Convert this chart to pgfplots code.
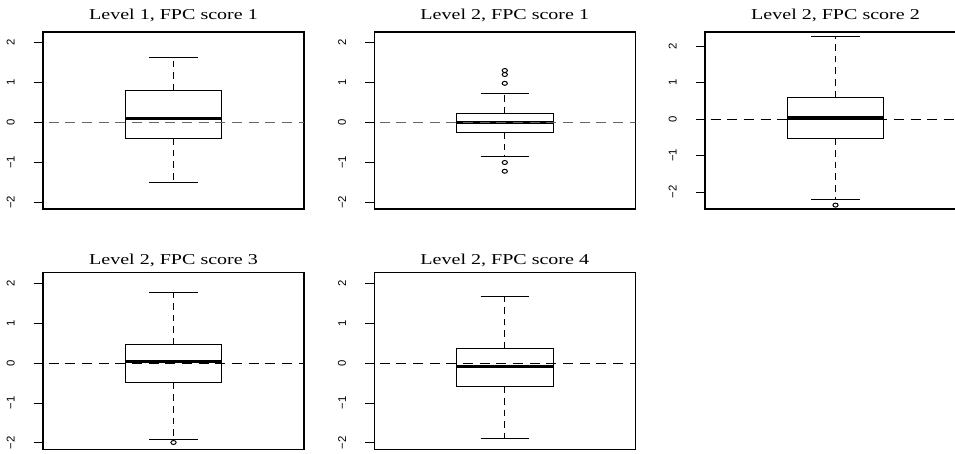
\documentclass[border=0pt]{standalone}
\usepackage{graphicx}
\usepackage{fontspec}
\setmainfont{Liberation Serif}
\setsansfont{Liberation Sans}
\usepackage{pgfplots}
\pgfplotsset{compat=1.18}
\pgfplotsset{
  rbox/.style={
    scale only axis, width=195.75pt, height=132.75pt, anchor=north west,
    xmin=0.46, xmax=1.54, xtick=\empty,
    ytick={-2,-1,0,1,2}, yticklabels={−2,−1,0,1,2},
    ytick pos=left, tick align=outside, major tick length=7pt,
    tick style={black, line width=0.6pt},
    axis line style={line width=0.9pt},
    yticklabel style={xshift=-14pt, rotate=90, anchor=south, inner sep=0pt, font=\sffamily\fontsize{8.5}{10}\selectfont},
    title style={font=\fontsize{11.3}{13}\selectfont, anchor=base, at={(0.5,1)}},
  },
  zl/.style={line width=0.7pt, dash pattern=on 7.5pt off 5pt},
  bx/.style={black, line width=0.75pt},
  wh/.style={black, line width=0.75pt, dash pattern=on 5pt off 3.75pt},
  md/.style={black, line width=2.4pt},
  ol/.style={only marks, mark=o, mark size=1.5pt, mark options={line width=0.75pt, black, xscale=1.3}},
}
\begin{document}
\begin{tikzpicture}
\useasboundingbox (0,0) rectangle (716.25pt,-339.75pt);
\clip (0,0) rectangle (716.25pt,-339.75pt);
% Panel 1
\begin{axis}[rbox, at={(32.25pt,-24pt)}, ymin=-2.164, ymax=2.264,
  title style={yshift=3.4pt}, title={\scalebox{1.33}[1]{Level 1, FPC score 1}}]
\addplot[wh] coordinates {(1,0.80) (1,1.625)};
\addplot[wh] coordinates {(1,-0.39) (1,-1.51)};
\addplot[bx] coordinates {(0.9,1.625) (1.1,1.625)};
\addplot[bx] coordinates {(0.9,-1.51) (1.1,-1.51)};
\addplot[bx] coordinates {(0.8,-0.39) (1.2,-0.39) (1.2,0.80) (0.8,0.80) (0.8,-0.39)};
\addplot[md] coordinates {(0.8,0.10) (1.2,0.10)};
\addplot[zl, black!60] coordinates {(0,0) (2,0)};
\end{axis}
% Panel 2
\begin{axis}[rbox, at={(280.7pt,-24pt)}, ymin=-2.164, ymax=2.264,
  title style={yshift=3.4pt}, title={\scalebox{1.33}[1]{Level 2, FPC score 1}}]
\addplot[wh] coordinates {(1,0.22) (1,0.73)};
\addplot[wh] coordinates {(1,-0.24) (1,-0.85)};
\addplot[bx] coordinates {(0.9,0.73) (1.1,0.73)};
\addplot[bx] coordinates {(0.9,-0.85) (1.1,-0.85)};
\addplot[bx] coordinates {(0.8,-0.24) (1.2,-0.24) (1.2,0.22) (0.8,0.22) (0.8,-0.24)};
\addplot[md] coordinates {(0.8,0.0) (1.2,0.0)};
\addplot[ol] coordinates {(1,1.30) (1,1.20) (1,0.98) (1,-1.00) (1,-1.22)};
\addplot[zl, black!60] coordinates {(0,0) (2,0)};
\end{axis}
% Panel 3
\begin{axis}[rbox, at={(528.75pt,-24pt)}, ymin=-2.466, ymax=2.384,
  title style={yshift=3.4pt}, title={\scalebox{1.33}[1]{Level 2, FPC score 2}}]
\addplot[wh] coordinates {(1,0.59) (1,2.27)};
\addplot[wh] coordinates {(1,-0.53) (1,-2.20)};
\addplot[bx] coordinates {(0.9,2.27) (1.1,2.27)};
\addplot[bx] coordinates {(0.9,-2.20) (1.1,-2.20)};
\addplot[bx] coordinates {(0.8,-0.53) (1.2,-0.53) (1.2,0.59) (0.8,0.59) (0.8,-0.53)};
\addplot[md] coordinates {(0.8,0.03) (1.2,0.03)};
\addplot[ol] coordinates {(1,-2.36)};
\addplot[zl, black] coordinates {(0,0) (2,0)};
\end{axis}
% Panel 4
\begin{axis}[rbox, at={(32.25pt,-204.5pt)}, ymin=-2.17, ymax=2.265,
  title style={yshift=-0.2pt}, title={\scalebox{1.33}[1]{Level 2, FPC score 3}}]
\addplot[wh] coordinates {(1,0.46) (1,1.775)};
\addplot[wh] coordinates {(1,-0.49) (1,-1.91)};
\addplot[bx] coordinates {(0.9,1.775) (1.1,1.775)};
\addplot[bx] coordinates {(0.9,-1.91) (1.1,-1.91)};
\addplot[bx] coordinates {(0.8,-0.49) (1.2,-0.49) (1.2,0.46) (0.8,0.46) (0.8,-0.49)};
\addplot[md] coordinates {(0.8,0.03) (1.2,0.03)};
\addplot[ol] coordinates {(1,-1.99)};
\addplot[zl, black] coordinates {(0,0) (2,0)};
\end{axis}
% Panel 5
\begin{axis}[rbox, at={(280.7pt,-204.5pt)}, ymin=-2.17, ymax=2.265,
  title style={yshift=-0.2pt}, title={\scalebox{1.33}[1]{Level 2, FPC score 4}}]
\addplot[wh] coordinates {(1,0.36) (1,1.68)};
\addplot[wh] coordinates {(1,-0.58) (1,-1.88)};
\addplot[bx] coordinates {(0.9,1.68) (1.1,1.68)};
\addplot[bx] coordinates {(0.9,-1.88) (1.1,-1.88)};
\addplot[bx] coordinates {(0.8,-0.58) (1.2,-0.58) (1.2,0.36) (0.8,0.36) (0.8,-0.58)};
\addplot[md] coordinates {(0.8,-0.09) (1.2,-0.09)};
\addplot[zl, black] coordinates {(0,0) (2,0)};
\end{axis}
\end{tikzpicture}
\end{document}
